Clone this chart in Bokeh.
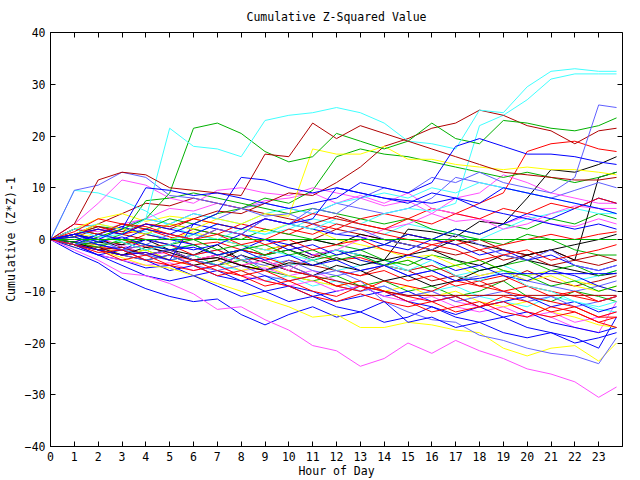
from bokeh.plotting import figure
from bokeh.models import Range1d, FixedTicker, LinearAxis
from bokeh.embed import file_html
from bokeh.resources import INLINE

HOURS = [0, 1, 2, 3, 4, 5, 6, 7, 8, 9, 10, 11, 12, 13, 14, 15, 16, 17, 18, 19, 20, 21, 22, 23, 23.75]
X_TICKS = list(range(0, 24))
Y_TICKS = [-40, -30, -20, -10, 0, 10, 20, 30, 40]

RED = "#ff0000"; GREEN = "#00b000"; BLUE = "#0000ff"; MAGENTA = "#ff50ff"
CYAN = "#40ffff"; DARKRED = "#b00000"; YELLOW = "#ffff00"; BLACK = "#000000"; SLATE = "#6060ff"

# one cumulative (Z*Z)-1 trace per list, read hour by hour from the picture
cyan_a = [0, 2, 0.5, 1, 4, 21.5, 18, 17.5, 16, 23, 24, 24.5, 25.5, 24.5, 22.5, 19, 18.5, 17.5, 25, 24.5, 29.5, 32.5, 33, 32.5, 32.5]
cyan_b = [0, -1, 1, -0.5, -2, -1, 1, 0, 2, 1, 3, 2, 4, 3, 5, 6, 5.5, 7, 22, 24, 27, 31, 32, 32, 32]
cyan_c = [0, 9.5, 9, 7.5, 5.5, 2.5, 1, 0, -1, -2, -3, -4, -2, -3, -5, -6, -4, -7, -8, -6, -9, -10, -12, -13, -12]
cyan_d = [0, -1, -2, -1.5, -3, -4, -3, -5, -6, -8, -7, -9, -8, -10, -9, -11, -10, -9, -11, -12, -13, -11, -12, -13.5, -14]
cyan_e = [0, 1, 0, 2, 1.5, 0, 1, 3, 2, 1, 2, 4, 3, 2, 1, 3, 2, 1, 0, 2, 4, 5, 6, 5, 5]
cyan_f = [0, -1, 0, -2, -3, -2, -1, -3, -4, -3, -5, -4, -6, -5, -4, -6, -5, -7, -6, -5, -7, -6, -8, -7, -6]
cyan_g = [0, 2, 3, 2, 4, 3, 5, 4, 3, 5, 6, 5, 7, 8, 9, 8, 10, 9, 11, 10, 9, 8, 7, 6, 5]

green_a = [0, -1, 0.5, 2, 4, 9, 21.5, 22.5, 20.5, 17, 15, 16, 20.5, 19, 17.5, 19, 22.5, 19.5, 18.5, 23, 22.5, 21.5, 21, 22, 23.5]
green_b = [0, 2, 1, 3, 2, 4, 3, 5, 6, 8, 7, 9.5, 16, 17.5, 16.5, 16, 15, 14, 13, 12, 13, 12, 11, 12, 13]
green_c = [0, -1, -0.5, 1, 7.5, 8, 9, 8, 7, 6, 5, 6, 5, 4, 3, 4, 2, 1, 0, -1, 1, 0, -2, -3, -3]
green_d = [0, -1, -2, -3, -2, -4, -3, -5, -4, -6, -7, -8, -7, -9, -8, -10, -9, -11, -10, -8, -11, -12, -10, -11, -12]
green_e = [0, 0.5, -1, -0.5, -2, -1, 0, -2, -1, -3, -2, -4, -3, -2, -4, -5, -3, -4, -6, -5, -4, -6, -5, -7, -6]
green_f = [0, 1, 2.5, 2, 1, 3, 2, 1, 0, 2, 1, 0, -1, -2, -1, 1, 0, 2, 1, 3, 2, 4, 3, 5, 4]
green_g = [0, -0.5, -1.5, 0, -1, -2, -1, -3, -2, -1, -3, -2, -4, -3, -5, -4, -6, -5, -4, -6, -7, -9, -8, -10, -9]
green_zero = [0] * 25

darkred_a = [0, 3, 11.5, 13, 12.5, 10, 9.5, 9, 8.5, 16.5, 16, 22.5, 19.5, 22, 20.5, 19, 17.5, 16, 14.5, 13, 12.5, 12, 11.5, 11.5, 12]
darkred_b = [0, 1, 2.5, 1.5, 3, 2, 4, 5.5, 5, 7, 9, 8.5, 11, 14, 18, 19.5, 21.5, 22.5, 25, 24, 22, 21, 18.5, 21, 21.5]
darkred_c = [0, -1, -2, -1.5, -3, -2, -4, -3.5, -5, -6, -5, -7, -8, -9, -10, -10.8, -10.8, -10.8, -10.8, -10.8, -10.8, -10.8, -10.8, -10.8, -10.8]
darkred_d = [0, 1, 3, 5, 7, 6.5, 8, 7, 6, 5, 4, 3, 4.5, 3, 2, 1, 0, -1, 0, -2, -3, -2, -4, -5, -4]
darkred_e = [0, -0.5, -1, -2, -3, -2, -4, -3, -5, -6, -4, -5, -6, -7, -5, -6, -8, -7, -9, -8, -6, -8, -9, -8, -7]
darkred_f = [0, 0.5, 2, 1, 0, -1, 1, 0, -1, -2, -1, 0, 2, 1, 0, -1, -2, -3, -2, -4, -3, -5, -4, -3, -4]

slate_a = [0, 9.5, 10.5, 13, 12, 8.5, 8, 7, 6, 4.5, 5, 3, 1, 2, 0, -1, -2, 1, -1, -3, -4, -2, -5, -6, -5]
slate_b = [0, -1, 0, -2, -1, 1, 0, 2, 1, 4, 3, 6, 5, 8, 10, 9, 12, 11, 13, 11, 10, 9, 12, 26, 25.5]
slate_c = [0, 1, -1, -2, -3, -2, -4, -5, -3, -6, -5, -7, -6, -8, -12, -14, -15.5, -16, -18.5, -19.5, -21, -22, -22.5, -24, -19]
slate_d = [0, -1, -2, -1.5, -3, -4, -3, -2, -4, -5, -4, -6, -7, -6, -5, -7, -6, -8, -7, -6, -8, -9, -10, -9, -8]
slate_e = [0, 2, 1, 2.5, 4, 3, 5, 4, 6, 7, 6, 5, 7, 6, 5, 6, 8, 12, 11, 10, 9, 8, 9.5, 11, 10]
slate_f = [0, -0.5, -2, -3, -4, -3, -5, -6, -5, -7, -8, -7, -9, -10, -9, -11, -10, -12, -11, -10, -12, -11, -13, -12, -11]

blue_a = [0, -1, 1, 0, 2, 1, 3, 5, 12, 11.5, 10, 9, 10, 9, 8, 7.5, 7, 8, 6, 5, 4, 3, 2, 3, 2]
blue_b = [0, 1, 0, 2, 10, 9.5, 8.5, 9, 8, 7, 6, 7, 8, 11, 10, 9, 11, 18, 19.5, 18, 16.5, 16.5, 16, 15, 14.5]
blue_c = [0, -2.5, -4.5, -7.5, -9.5, -11, -12, -11.5, -14.5, -16.5, -14.5, -13, -15, -14, -16, -15, -13, -15, -16, -15, -17, -18, -19, -21, -15]
blue_d = [0, -1, -3, -2, -4, -6, -5, -7, -8, -7, -9, -10, -12, -11, -10, -12, -13, -14.5, -13, -15, -14, -16, -17, -18, -17]
blue_e = [0, 1, -0.5, 0.5, -1, -2, -1.5, -3, -2, -4, -3, -5, -4, -6, -5, -7, -6, -8, -7.5, -6.6, -6.6, -6.6, -6.6, -6.6, -6.6]
blue_f = [0, -0.5, 1, 2.5, 1, 0, -1, -3, -2, 0, -1, -3, -2, -4, -5, -3, -4, -6, -5, -7, -8, -6, -7, -9, -10]
blue_g = [0, -1, -2, -3, -2.5, -4, 3, 2, 1, 4, 3, 2, 1, 0.5, -1, -2, 0, -1, -3, -2, -4, -3, -5, -6, -5]
blue_h = [0, 1, 2, 1, 3, 2, 1, 3, 2, 4, 3, 4, 10, 9, 8, 7, 9, 8, 7, 10, 9, 8, 7, 6, 5]
blue_i = [0, -1.5, -3, -4, -5.5, -5, -7, -6, -8, -10, -9, -11, -10, -9, -11, -10, -12, -11, -13, -12, -11, -13, -12, -14, -13]
blue_j = [0, 0.5, -1, -2, 0, -1, -2, -1, 1, 0, -2, -1, -3, -2, -1, 1, 0, 2, 1, 3, 5, 4, 6, 8, 7]
blue_k = [0, -1, -3, -5, -7, -8, -7, -9, -11, -10, -12, -11, -13, -14, -12, -16, -15, -17, -16, -18, -19, -18, -20, -19, -18]

black_a = [0, -0.5, -2, -3, -1.5, -2.5, -4, -3.5, -5, -6, -4.5, -5, -3.5, -5, -4, 2, 1.5, 0.5, 3.5, 3, 8, 13.5, 13, 14.5, 16]
black_b = [0, 1, 0, -1.5, -3, -2, -4, -5, -3, -4.5, -6, -7, -5, -6, -8, -7, -9, -8, -6, -5, -3, -2, -4, 12, 13]
black_c = [0, 1, -0.5, -1, 0, -2, -3, -1, -4, -3, -2, -3.5, -2, -3, -4, -3, -2, -4, -5, -3, -4, -5, -6, -7, -6.5]
black_d = [0, -1, -1.5, -3, -4, -3, -5, -4, -2, -3, -1, 0, -1, 1, 0, -1, -2, 0, -1, -2, -3, -2, -1, 0, 1]

yellow_a = [0, -1, -2, -3.5, -5, -5.5, -7, -8.5, -10, -11.5, -13, -15, -14.5, -17, -17, -16, -16.5, -17.5, -18, -21, -22.5, -21, -20.5, -23.5, -20]
yellow_b = [0, 1, 3, 2, 1, 3, 2, 4, 3, 5, 4.5, 17.5, 16.5, 16.5, 18, 15.5, 15.5, 14.5, 14, 13.5, 14, 13.5, 13.5, 13, 12.5]
yellow_c = [0, 2, 4, 5, 3.5, 4.5, 4, 3, 2, 1.5, 3, 2, 0, -1, -2, -3.5, -3, -5, -4, -6, -7, -6, -8, -9, -10]
yellow_d = [0, -1.5, -1, -3, -2, -4, -5, -4, -6, -5, -7, -8, -9, -8, -10, -9, -11, -10, -12, -13, -12, -14, -15, -16.5, -17]
yellow_e = [0, 1, 0.5, 2, 1, 0, 1.5, 0, -1, -2, -1, -3, -2, -4, -5, -4, -6, -5, -7, -6, -8, -7, -9, -10, -9]
yellow_zero = [0] * 25

magenta_a = [0, -2, -4, -6.5, -7, -8.5, -10.5, -13.5, -13, -15.5, -17.5, -20.5, -21.5, -24.5, -23, -20, -22, -19.5, -21.5, -23, -25, -26, -27.5, -30.5, -28.5]
magenta_b = [0, 3, 7, 11.5, 10.5, 8, 7, 9.5, 10, 9, 8.5, 10, 9, 8, 6.5, 7.5, 5, 3.5, 4, 2, 3, 5, 6.5, 6, 6]
magenta_c = [0, -1, 0.5, -1.5, -3, -2, -4, -3, -5, -4, -6, -3, -2, 0, 2, 3, 5, 8, 9, 12.5, 11, 9, 8, 7, 7]
magenta_d = [0, -1, -2, -1, -3, -2.5, -5, -4, -6, -5.5, -7, -6, -8, -10, -9, -11, -10, -12, -13, -12, -14, -15, -17, -18, -12]
magenta_e = [0, 2, 1.5, 3, 4, 6, 5.5, 7, 6, 7.5, 8, 9, 7, 8.5, 7, 9, 6, 5, 4, 3, 4.5, 3, 2.5, 4, 3]
magenta_f = [0, -1, -3, -4, -5, -4.5, -6, -5, -7, -8, -9, -8, -10, -9, -11, -12, -11, -13, -14, -13, -15, -14, -16, -15, -14]

red_a = [0, 1, 0, -1, 1, 0, 2, 1, 3, 2, 1, 3, 2, 4, 5, 4, 6, 5, 7, 9, 17, 18.5, 19, 17.5, 17]
red_b = [0, 3, 2.5, 1, 2, 0.5, -1, -0.5, -2, -3, -1, -3, -4, -3.5, -5, -6, -5, -7, -8, -7, -9, -10, -11, -12, -11]
red_c = [0, -1, -1.5, -2, -1, -3, -4, -3, -5, -4, -6, -7, -9, -8, -10, -11, -12, -11, -13, -12, -14, -15, -14, -16, -15]
red_d = [0, -1, -2, -3, -2.5, -4, -5, -7, -6, -8, -9, -11, -12, -10.5, -12, -13, -12, -14, -13, -11, -12, -14, -13, -15, -14]
red_e = [0, 2, 1, 3, 2, 1, 0, 2, 1, -1, 0, -2, -1, 0, -2, -3, -1, -2, -4, -3, -2, -4, -3, -2, -1]
red_f = [0, 1.5, 4, 3, 2.5, 1, 0, 1, -1, 0, 2, 1, 3, 2, 1, 0, -1, 0, -2, -1, 0, 1, 0, 1, 1.5]
red_g = [0, -1, -2.5, -2, -4, -5, -4, -6, -7, -6, -8, -7, -9, -10, -8, -9, -10, -8, -9, -10, -11, -12, -13, -15, -15]
red_h = [0, -0.5, 1, 0, -1.5, -1, -3, -2, -4, -3.5, -5, -4, -6, -7, -6, -8, -7, -9, -8, -10, -9, -11, -10, -12, -11]
red_i = [0, 1, 2, 1, 3, 2.5, 4, 3, 2, 4, 3, 5, 4, 3, 2, 4, 3, 5, 4, 6, 5, 7, 6, 8, 7]
red_j = [0, -1, -2, -4, -3, -5, -6, -5, -7, -9, -8, -10, -11, -9, -10, -12, -14, -13, -12, -14, -15, -13, -14, -16, -17]

SERIES = [
    (red_a, RED), (green_d, GREEN), (blue_c, BLUE), (magenta_d, MAGENTA), (cyan_d, CYAN),
    (darkred_e, DARKRED), (yellow_d, YELLOW), (black_c, BLACK), (slate_d, SLATE),
    (red_h, RED), (green_f, GREEN), (blue_i, BLUE), (magenta_f, MAGENTA), (cyan_f, CYAN),
    (darkred_f, DARKRED), (yellow_e, YELLOW), (black_d, BLACK), (slate_f, SLATE),
    (red_b, RED), (green_e, GREEN), (blue_d, BLUE), (magenta_e, MAGENTA), (cyan_e, CYAN),
    (darkred_d, DARKRED), (yellow_c, YELLOW), (black_b, BLACK), (slate_e, SLATE),
    (red_c, RED), (green_c, GREEN), (blue_f, BLUE), (magenta_c, MAGENTA), (cyan_c, CYAN),
    (darkred_c, DARKRED), (yellow_a, YELLOW), (black_a, BLACK), (slate_c, SLATE),
    (red_d, RED), (green_g, GREEN), (blue_j, BLUE), (cyan_g, CYAN), (red_j, RED), (blue_k, BLUE),
    (green_b, GREEN), (blue_g, BLUE), (magenta_b, MAGENTA), (cyan_b, CYAN),
    (darkred_b, DARKRED), (yellow_b, YELLOW), (slate_a, SLATE), (red_i, RED),
    (red_e, RED), (green_a, GREEN), (blue_a, BLUE), (magenta_a, MAGENTA), (cyan_a, CYAN),
    (darkred_a, DARKRED), (slate_b, SLATE),
    (red_f, RED), (blue_b, BLUE), (red_g, RED), (blue_h, BLUE), (blue_e, BLUE),
    (yellow_zero, YELLOW), (green_zero, GREEN),
]

FONT = "DejaVu Sans Mono"
FS = "11.5px"

p = figure(width=632, height=480, output_backend="svg", toolbar_location=None,
           x_range=Range1d(0, 24), y_range=Range1d(-40, 40),
           title="Cumulative Z-Squared Value",
           min_border_left=50, min_border_right=10, min_border_top=32, min_border_bottom=34)
p.title.align = "center"
p.title.vertical_align = "top"
p.title.text_font = FONT
p.title.text_font_size = FS
p.title.text_font_style = "normal"
p.title.text_color = "black"
p.title.standoff = 14
p.xgrid.visible = False
p.ygrid.visible = False
p.outline_line_color = "black"
p.outline_line_width = 1
p.background_fill_color = "white"
p.border_fill_color = "white"

for ys, col in SERIES:
    p.line(HOURS, ys, line_color=col, line_width=1)

xa = p.xaxis[0]
xa.ticker = FixedTicker(ticks=X_TICKS)
xa.axis_label = "Hour of Day"
ya = p.yaxis[0]
ya.ticker = FixedTicker(ticks=Y_TICKS)
ya.axis_label = "Cumulative (Z*Z)-1"
for ax in (xa, ya):
    ax.major_tick_in = 5
    ax.major_tick_out = 0
    ax.minor_tick_line_color = None
    ax.axis_line_color = "black"
    ax.major_tick_line_color = "black"
    ax.major_label_text_font = FONT
    ax.major_label_text_font_size = FS
    ax.major_label_text_color = "black"
    ax.axis_label_text_font = FONT
    ax.axis_label_text_font_size = FS
    ax.axis_label_text_font_style = "normal"
    ax.axis_label_text_color = "black"
xa.major_label_standoff = 5
xa.axis_label_standoff = 0
ya.major_label_standoff = 5
ya.axis_label_standoff = 4

top = LinearAxis(ticker=FixedTicker(ticks=X_TICKS))
right = LinearAxis(ticker=FixedTicker(ticks=Y_TICKS))
for ax, ticks in ((top, X_TICKS), (right, Y_TICKS)):
    ax.major_tick_in = 5
    ax.major_tick_out = 0
    ax.major_tick_line_color = "black"
    ax.minor_tick_line_color = None
    ax.axis_line_color = None
    ax.major_label_overrides = {t: "" for t in ticks}
    ax.major_label_standoff = 0
p.add_layout(top, "above")
p.add_layout(right, "right")

open("out.html", "w").write(file_html(p, INLINE))
